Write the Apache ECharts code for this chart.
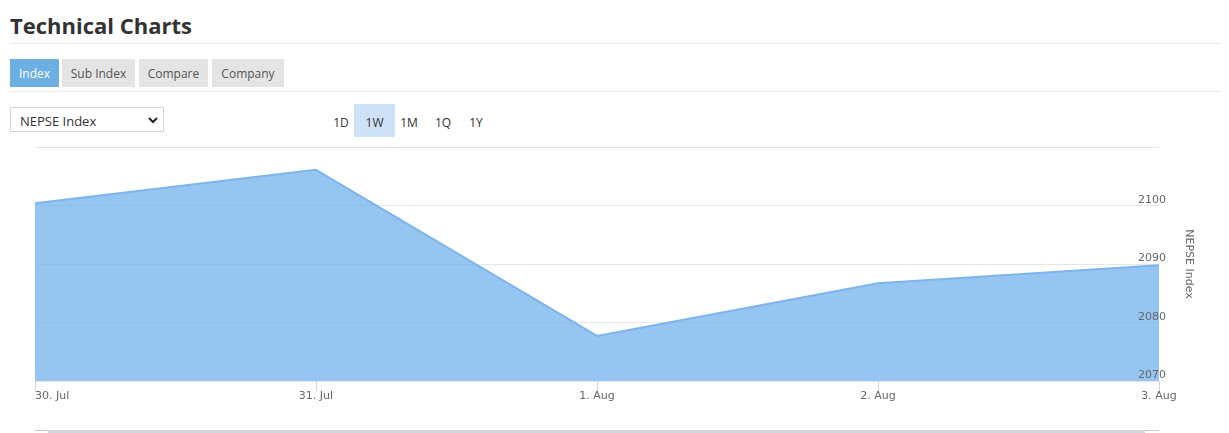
<!DOCTYPE html>
<html>
<head>
<meta charset="utf-8">
<script src="https://cdn.jsdelivr.net/npm/echarts@6/dist/echarts.min.js"></script>
<style>
  html, body { margin: 0; padding: 0; background: #fff; width: 1229px; height: 433px; overflow: hidden; font-family: "Open Sans", sans-serif; }
  .title { position: absolute; left: 10px; top: 10px; font-size: 22px; font-weight: bold; color: #333; }
  .sep { position: absolute; left: 10px; width: 1210px; height: 1px; background: #e8e8e8; }
  .tab { position: absolute; top: 59px; height: 28px; line-height: 30px; font-size: 12px; color: #555; background: #e4e4e4; text-align: center; }
  .tab.active { background: #6cb0e3; color: #fff; }
  .sel { position: absolute; left: 10px; top: 107px; width: 154px; height: 25px; border: 1px solid #d4d4d4; box-sizing: border-box; font-size: 13px; color: #333; line-height: 26px; padding-left: 9px; }
  .sel svg { position: absolute; right: 5px; top: 9px; }
  .rb { position: absolute; top: 104px; height: 33px; line-height: 37px; font-size: 12px; color: #333; text-align: center; }
  .rb.on { background: #cfe1f6; }
  #chart { position: absolute; left: 0; top: 140px; width: 1229px; height: 293px; }
  .nav1 { position: absolute; left: 35px; top: 430px; width: 1124px; height: 1px; background: #c8c8c8; }
  .nav2 { position: absolute; left: 48px; top: 430px; width: 1097px; height: 3px; background: #d3d8df; }
</style>
</head>
<body>
<div class="title">Technical Charts</div>
<div class="sep" style="top:43px"></div>
<div class="tab active" style="left:10px;width:49px">Index</div>
<div class="tab" style="left:62px;width:73px">Sub Index</div>
<div class="tab" style="left:139px;width:69px">Compare</div>
<div class="tab" style="left:212px;width:72px">Company</div>
<div class="sep" style="top:91px"></div>
<div class="sel">NEPSE Index<svg width="10" height="7" viewBox="0 0 10 7"><path d="M1 1 L5 5 L9 1" stroke="#222" stroke-width="2" fill="none"/></svg></div>
<div class="rb" style="left:329px;width:24px">1D</div>
<div class="rb on" style="left:354px;width:41px">1W</div>
<div class="rb" style="left:397px;width:24px">1M</div>
<div class="rb" style="left:431px;width:24px">1Q</div>
<div class="rb" style="left:464px;width:24px">1Y</div>
<div id="chart"></div>
<div class="nav1"></div>
<div class="nav2"></div>
<script>
const categories = ["30. Jul", "31. Jul", "1. Aug", "2. Aug", "3. Aug"];
const nepseValues = [2100.4, 2106.1, 2077.7, 2086.7, 2089.8];
const yTicks = { min: 2070, max: 2110, interval: 10 };
const yAxisTitle = "NEPSE Index";
const chartFont = 'DejaVu Sans';

const chart = echarts.init(document.getElementById('chart'), null, { renderer: 'canvas' });
chart.setOption({
  animation: false,
  grid: { left: 35, right: 70, top: 7, bottom: 52, containLabel: false },
  xAxis: {
    type: 'category',
    data: categories,
    boundaryGap: false,
    axisLine: { show: false },
    axisTick: { show: true, alignWithLabel: true, length: 10, lineStyle: { color: '#ccd6eb' } },
    axisLabel: { color: '#666', fontSize: 11, fontFamily: chartFont, margin: 10, alignMinLabel: 'left', interval: 0 },
    splitLine: { show: false }
  },
  yAxis: [{
    type: 'value',
    position: 'right',
    min: yTicks.min, max: yTicks.max, interval: yTicks.interval,
    axisLine: { show: false },
    axisTick: { show: false },
    axisLabel: { show: false },
    splitLine: { show: true, lineStyle: { color: '#e6e6e6', width: 1 } }
  }, {
    type: 'value',
    position: 'right',
    z: 10,
    min: yTicks.min, max: yTicks.max, interval: yTicks.interval,
    name: yAxisTitle,
    nameLocation: 'middle',
    nameRotate: -90,
    nameGap: 24,
    nameTextStyle: { color: '#666', fontSize: 11, fontFamily: chartFont },
    axisLine: { show: false },
    axisTick: { show: false },
    axisLabel: {
      color: '#666', fontSize: 11, fontFamily: chartFont,
      align: 'right', verticalAlign: 'bottom', margin: 7, padding: [0, 0, 0, 0],
      showMaxLabel: false,
      formatter: function (v) { return String(v); }
    },
    splitLine: { show: false }
  }],
  series: [{
    type: 'line',
    yAxisIndex: 0,
    data: nepseValues,
    symbol: 'none',
    lineStyle: { color: '#7cb5ec', width: 2 },
    areaStyle: { color: 'rgba(116,178,236,0.75)', opacity: 1, origin: 'start' }
  }]
});
</script>
</body>
</html>
